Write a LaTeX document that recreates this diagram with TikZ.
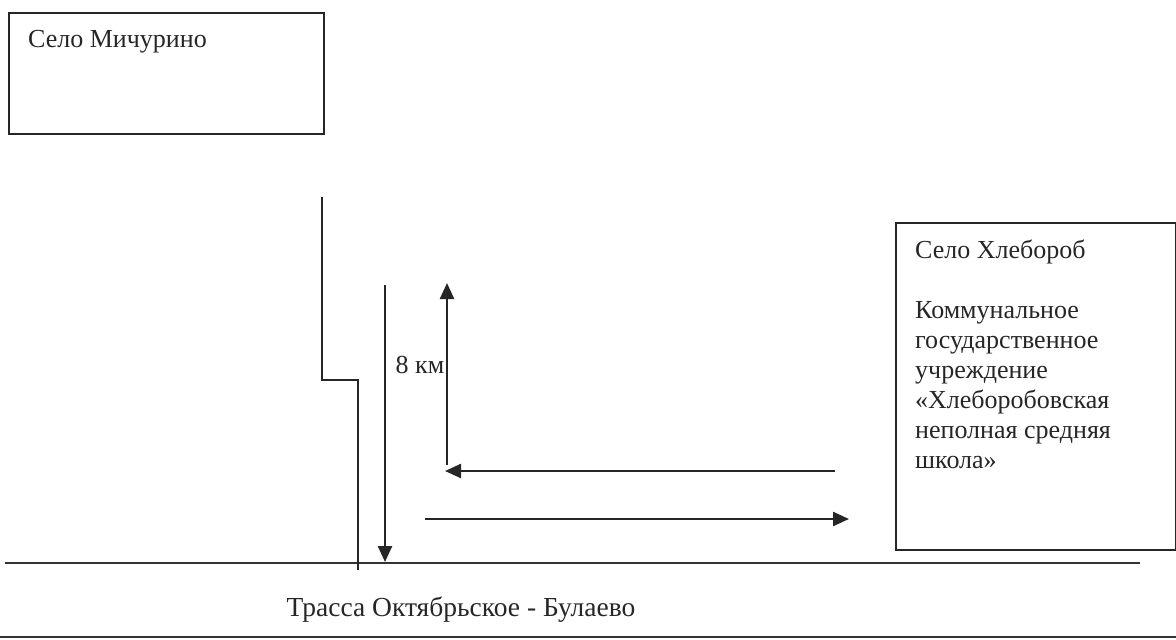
\documentclass[tikz,border=0pt]{standalone}
\usepackage{fontspec}
\setmainfont{Liberation Serif}
\usetikzlibrary{arrows.meta,positioning}

\tikzset{
  plan/.style={line width=2.4pt, draw=black!85},
  road/.style={line width=2.6pt, draw=black!80},
  way/.style={line width=2.4pt, draw=black!85, -{Triangle[length=16pt,width=14pt]}},
  txt/.style={font=\fontsize{26}{30}\selectfont, text=black!85, inner sep=0pt}
}

\begin{document}
\begin{tikzpicture}[x=1pt,y=-1pt]
	\useasboundingbox (0,0) rectangle (1176,640);

	% boxes for the villages
	\node[plan, draw, minimum width=315pt, minimum height=121pt, anchor=north west] (mich) at (8,12) {};
	\node[txt, anchor=base west] (michtxt) at (28,47) {Село Мичурино};

	\node[plan, draw, minimum width=280pt, minimum height=327pt, anchor=north west] (hleb) at (895,222) {};
	\node[txt, anchor=north west, align=left] (hlebtxt) at (915,240)
	  {Село Хлебороб\\[30pt]Коммунальное\\государственное\\учреждение\\«Хлеборобовская\\неполная средняя\\школа»};

	% road
	\coordinate (rd1) at (5,563);
	\coordinate (rd2) at (1140,563);
	\coordinate (rd3) at (0,637);
	\coordinate (rd4) at (1176,637);
	\draw[road] (rd1) -- (rd2);
	\draw[road] (rd3) -- (rd4);
	\node[txt, font=\fontsize{27.5}{30}\selectfont] (trassa) at (461,610) {Трасса Октябрьское - Булаево};

	% side road
	\coordinate (s1) at (322,197);
	\coordinate (s2) at (322,380);
	\coordinate (s3) at (358,380);
	\coordinate (s4) at (358,570);
	\draw[plan] (s1) -- (s2) -- (s3) -- (s4);

	% arrows
	\coordinate (d1) at (385,285);
	\coordinate (d2) at (385,562);
	\draw[way] (d1) -- (d2);
	\node[txt] (km) at (420,365) {8 км};

	\coordinate (u1) at (447,465);
	\coordinate (u2) at (447,283);
	\draw[way] (u1) -- (u2);

	\coordinate (l1) at (835,471);
	\coordinate (l2) at (445,471);
	\draw[way] (l1) -- (l2);

	\coordinate (r1) at (425,519);
	\coordinate (r2) at (849,519);
	\draw[way] (r1) -- (r2);
\end{tikzpicture}
\end{document}
